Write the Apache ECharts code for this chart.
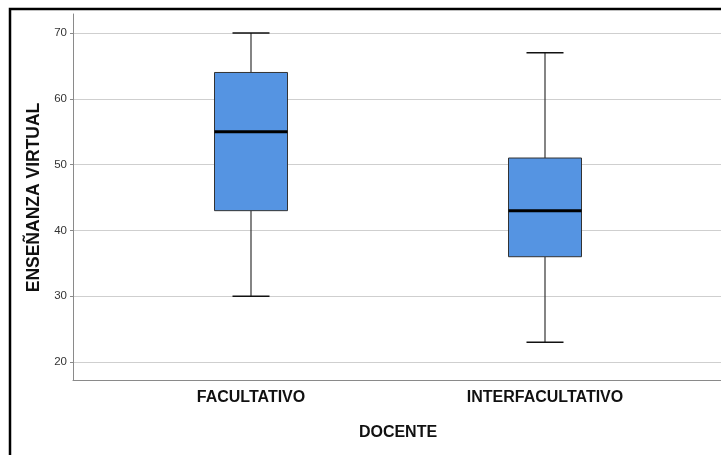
<!DOCTYPE html>
<html>
<head>
<meta charset="utf-8">
<title>Enseñanza virtual por docente</title>
<script src="https://cdn.jsdelivr.net/npm/echarts@6/dist/echarts.min.js"></script>
<style>
  html, body { margin: 0; padding: 0; background: #fff; }
  #chart { width: 721px; height: 455px; }
</style>
</head>
<body>
<div id="chart"></div>
<script>
// categorías y estadísticos de cada caja
var categories = ['FACULTATIVO', 'INTERFACULTATIVO'];
var mins    = [30, 23];
var q1s     = [43, 36];
var medians = [55, 43];
var q3s     = [64, 51];
var maxs    = [70, 67];
var yTicks  = [20, 30, 40, 50, 60, 70];

var font = '"Liberation Sans", Arial, sans-serif';
var chart = echarts.init(document.getElementById('chart'));

var boxData = categories.map(function (c, i) {
  return [i, mins[i], q1s[i], medians[i], q3s[i], maxs[i]];
});

function renderBox(params, api) {
  var i = api.value(0);
  var pMin = api.coord([i, api.value(1)]);
  var pQ1 = api.coord([i, api.value(2)]);
  var pMed = api.coord([i, api.value(3)]);
  var pQ3 = api.coord([i, api.value(4)]);
  var pMax = api.coord([i, api.value(5)]);
  var x = pMed[0];
  var half = 36.5, cap = 18.5;
  return {
    type: 'group',
    children: [
      { type: 'line', shape: { x1: x, y1: pMax[1], x2: x, y2: pQ3[1] }, style: { stroke: '#333', lineWidth: 1.2 } },
      { type: 'line', shape: { x1: x, y1: pQ1[1], x2: x, y2: pMin[1] }, style: { stroke: '#333', lineWidth: 1.2 } },
      { type: 'line', shape: { x1: x - cap, y1: pMax[1], x2: x + cap, y2: pMax[1] }, style: { stroke: '#111', lineWidth: 1.6 } },
      { type: 'line', shape: { x1: x - cap, y1: pMin[1], x2: x + cap, y2: pMin[1] }, style: { stroke: '#111', lineWidth: 1.6 } },
      { type: 'rect', shape: { x: x - half, y: pQ3[1], width: half * 2, height: pQ1[1] - pQ3[1] }, style: { fill: '#5594E2', stroke: '#333', lineWidth: 1 } },
      { type: 'line', shape: { x1: x - half, y1: pMed[1], x2: x + half, y2: pMed[1] }, style: { stroke: '#000', lineWidth: 3 } }
    ]
  };
}

var option = {
  animation: false,
  backgroundColor: '#fff',
  graphic: [{
    type: 'rect',
    shape: { x: 10, y: 9, width: 900, height: 600 },
    style: { fill: 'none', stroke: '#000', lineWidth: 2.5 },
    silent: true
  }],
  grid: [
    { left: 73, right: 0, top: 14, bottom: 75 },
    { left: 73, right: 0, top: 33, bottom: 93 },
    { left: 104, right: 29, top: 33, bottom: 93 }
  ],
  xAxis: [
    { gridIndex: 0, type: 'value', min: 0, max: 1, axisLine: { show: true, onZero: false, lineStyle: { color: '#8a8a8a', width: 1 } },
      axisTick: { show: false }, axisLabel: { show: false }, splitLine: { show: false } },
    { gridIndex: 1, type: 'value', show: false },
    { gridIndex: 2, type: 'category', data: categories, position: 'bottom', offset: 19,
      axisLine: { show: false }, axisTick: { show: false },
      axisLabel: { color: '#111', fontFamily: font, fontSize: 16, fontWeight: 'bold', margin: 9 },
      name: 'DOCENTE', nameLocation: 'middle', nameGap: 44,
      nameTextStyle: { color: '#111', fontFamily: font, fontSize: 16, fontWeight: 'bold' } }
  ],
  yAxis: [
    { gridIndex: 0, type: 'value', min: 17.26, max: 72.9,
      axisLine: { show: true, lineStyle: { color: '#8a8a8a', width: 1 } },
      axisTick: { show: false }, axisLabel: { show: false }, splitLine: { show: false } },
    { gridIndex: 1, type: 'value', min: yTicks[0], max: yTicks[yTicks.length - 1], interval: 10,
      axisLine: { show: false },
      axisTick: { show: true, length: 3, lineStyle: { color: '#8a8a8a' } },
      axisLabel: { color: '#333', fontFamily: font, fontSize: 11.5, margin: 6 },
      splitLine: { show: true, lineStyle: { color: '#cfcfcf', width: 1.2 } },
      name: 'ENSEÑANZA VIRTUAL', nameLocation: 'middle', nameGap: 26, nameRotate: 90,
      nameTextStyle: { color: '#111', fontFamily: font, fontSize: 17.5, fontWeight: 'bold' } },
    { gridIndex: 2, type: 'value', min: yTicks[0], max: yTicks[yTicks.length - 1], show: false }
  ],
  series: [{
    type: 'custom',
    xAxisIndex: 2,
    yAxisIndex: 2,
    renderItem: renderBox,
    encode: { x: 0, y: [1, 2, 3, 4, 5] },
    data: boxData
  }]
};

chart.setOption(option);
</script>
</body>
</html>
